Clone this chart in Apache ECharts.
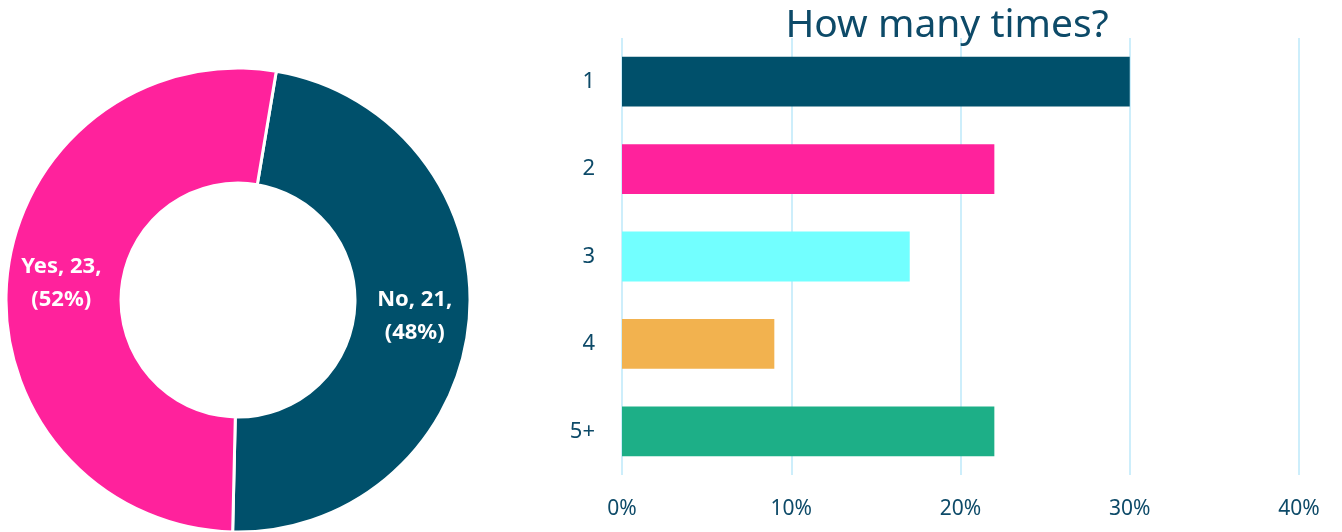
<!DOCTYPE html>
<html>
<head>
<meta charset="utf-8">
<script src="https://cdn.jsdelivr.net/npm/echarts@6/dist/echarts.min.js"></script>
<style>
  html, body { margin: 0; padding: 0; background: #ffffff; }
  #chart { width: 1342px; height: 532px; }
</style>
</head>
<body>
<div id="chart"></div>
<script>
// Did you answer yes or no?
const answerNames = ['No', 'Yes'];
const answerCounts = [21, 23];
const answerColors = ['#00506b', '#ff229c'];

// How many times? (share of "Yes" answers, %)
const timesCategories = ['1', '2', '3', '4', '5+'];
const timesShares = [30, 22, 17, 9, 22];
const timesColors = ['#00506b', '#ff229c', '#72ffff', '#f2b24f', '#1daf87'];
const shareTicks = [0, 10, 20, 30, 40];

const textColor = '#0d4a68';
const font = 'Noto Sans';
const total = answerCounts.reduce((a, b) => a + b, 0);

const chart = echarts.init(document.getElementById('chart'), null, { renderer: 'canvas' });

chart.setOption({
  animation: false,
  backgroundColor: '#ffffff',
  title: {
    text: 'How many times?',
    left: 942,
    top: 1,
    textAlign: 'center',
    textStyle: { color: textColor, fontFamily: font, fontSize: 39, fontWeight: 'normal' }
  },
  grid: { left: 622, right: 43, top: 38, bottom: 57, containLabel: false },
  xAxis: {
    type: 'value',
    min: shareTicks[0],
    max: shareTicks[shareTicks.length - 1],
    interval: 10,
    axisLine: { show: false },
    axisTick: { show: false },
    axisLabel: {
      color: textColor, fontFamily: font, fontSize: 21, margin: 24,
      formatter: v => v + '%'
    },
    splitLine: { show: true, lineStyle: { color: '#cdeefb', width: 2 } }
  },
  yAxis: {
    type: 'category',
    data: timesCategories,
    inverse: true,
    axisLine: { show: false },
    axisTick: { show: false },
    axisLabel: { color: textColor, fontFamily: font, fontSize: 22, margin: 27 }
  },
  series: [
    {
      type: 'pie',
      center: [238, 300],
      radius: [117, 232],
      startAngle: 80.5,
      clockwise: true,
      data: answerNames.map((n, i) => ({
        name: n, value: answerCounts[i], itemStyle: { color: answerColors[i] }
      })),
      itemStyle: { borderColor: '#ffffff', borderWidth: 3 },
      label: {
        show: true,
        position: 'inside',
        color: '#ffffff',
        fontFamily: font,
        fontWeight: 'bold',
        fontSize: 22,
        lineHeight: 33,
        formatter: p => p.name + ', ' + p.value + ',\n(' + Math.round(p.value / total * 100) + '%)'
      },
      labelLine: { show: false },
      emphasis: { disabled: true }
    },
    {
      type: 'bar',
      barWidth: '57%',
      data: timesShares.map((v, i) => ({ value: v, itemStyle: { color: timesColors[i] } })),
      emphasis: { disabled: true }
    }
  ]
});
</script>
</body>
</html>
